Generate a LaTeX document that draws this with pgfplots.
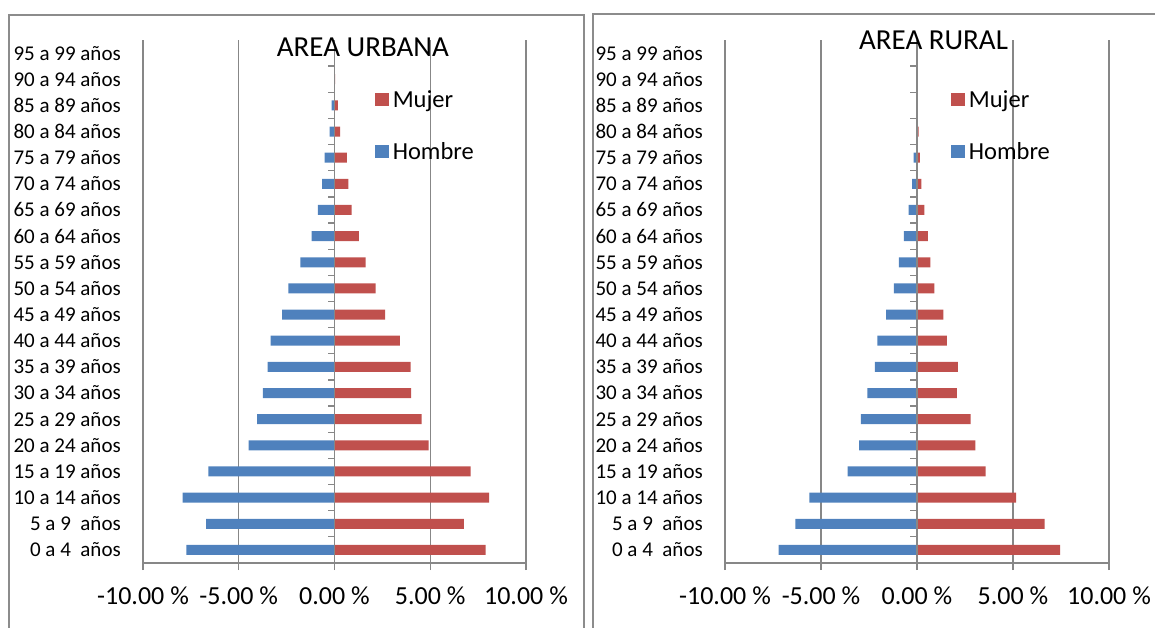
\documentclass[border=0pt]{standalone}
\usepackage{pgfplots}
\pgfplotsset{compat=1.18}
\usepackage{pgfplotstable}
\usepackage{fontspec}
\setmainfont{Carlito}

\definecolor{hombre}{HTML}{4F81BD}
\definecolor{mujer}{HTML}{C0504D}
\definecolor{gridgray}{HTML}{878787}
\definecolor{framegray}{HTML}{8C8C8C}

% idx 0 = 0 a 4 anos ... idx 19 = 95 a 99 anos
\pgfplotstableread{
idx hombre mujer
0  -7.73 7.89
1  -6.71 6.75
2  -7.93 8.07
3  -6.59 7.11
4  -4.49 4.92
5  -4.04 4.55
6  -3.74 4.00
7  -3.49 3.98
8  -3.33 3.41
9  -2.74 2.64
10 -2.41 2.15
11 -1.78 1.62
12 -1.19 1.27
13 -0.87 0.89
14 -0.64 0.72
15 -0.52 0.64
16 -0.25 0.29
17 -0.15 0.17
18 -0.02 0.03
19  0.00 0.00
}\urbana

\pgfplotstableread{
idx hombre mujer
0  -7.21 7.46
1  -6.34 6.64
2  -5.60 5.16
3  -3.62 3.57
4  -3.02 3.04
5  -2.92 2.79
6  -2.58 2.07
7  -2.20 2.13
8  -2.07 1.56
9  -1.61 1.37
10 -1.20 0.91
11 -0.95 0.70
12 -0.68 0.57
13 -0.44 0.38
14 -0.25 0.23
15 -0.17 0.15
16 -0.03 0.08
17 -0.01 0.04
18  0.00 0.00
19  0.00 0.00
}\rural

\pgfplotsset{
  pyramid/.style={
    scale only axis,
    width=383pt, height=523pt,
    anchor=south west,
    xbar, bar width=10pt, bar shift=0pt,
    xmin=-10, xmax=10,
    ymin=-0.5, ymax=19.5,
    axis x line=bottom,
    axis y line=left,
    x axis line style={-, draw=gridgray, line width=1.3pt},
    y axis line style={draw=none},
    xtick={-10,-5,0,5,10},
    xticklabels={-10.00 \%,-5.00 \%,0.00 \%,5.00 \%,10.00 \%},
    xmajorgrids,
    grid style={draw=gridgray, line width=1.3pt},
    xtick style={draw=gridgray, line width=1.3pt},
    tick align=outside,
    major tick length=7pt,
    xticklabel style={font=\fontsize{26}{30}\selectfont, inner sep=0pt, anchor=north, yshift=-17pt},
    ytick={0,...,19},
    yticklabels={0 a 4\ \ años,5 a 9\ \ años,10 a 14 años,15 a 19 años,20 a 24 años,25 a 29 años,30 a 34 años,35 a 39 años,40 a 44 años,45 a 49 años,50 a 54 años,55 a 59 años,60 a 64 años,65 a 69 años,70 a 74 años,75 a 79 años,80 a 84 años,85 a 89 años,90 a 94 años,95 a 99 años},
    ytick style={draw=none},
    yticklabel style={font=\fontsize{21}{24}\selectfont, inner sep=0pt, anchor=east, xshift=-15pt},
    title style={font=\fontsize{29}{33}\selectfont, inner sep=0pt, anchor=center},
    legend cell align=left,
    legend image code/.code={\fill[##1,draw=none] (0pt,1.5pt) rectangle (13.5pt,14.5pt);},
    legend style={draw=none, fill=none, inner sep=0pt, row sep=33pt,
      font=\fontsize{24.5}{28}\selectfont,
      nodes={inner sep=0pt, anchor=base west},
      /tikz/every odd column/.append style={column sep=4pt}},
  },
}

\begin{document}
\begin{tikzpicture}[x=1pt,y=1pt]
\useasboundingbox (0,0) rectangle (1155,628);
% panel frames
\draw[framegray, line width=1.5pt] (9,-5) -- (9,613) -- (584,613) -- (584,-5);
\draw[framegray, line width=1.5pt] (593,-5) -- (593,614) -- (1165,614);

\begin{axis}[pyramid, at={(143pt,65pt)},
  title={AREA URBANA},
  title style={at={(axis description cs:0.574,0.975)}},
  legend style={at={(axis description cs:0.606,0.903)}, anchor=north west}]
  \addplot[fill=mujer, draw=none] table[x=mujer, y=idx] {\urbana};
  \addplot[fill=hombre, draw=none] table[x=hombre, y=idx] {\urbana};
  \legend{Mujer, Hombre}
  \draw[gridgray, line width=1.3pt] (axis cs:0,-0.5) -- (axis cs:0,19.5);
  \pgfplotsinvokeforeach{0.5,1.5,...,18.5}{
    \draw[gridgray, line width=1.3pt] (axis cs:0,#1) -- ++(-7pt,0pt);}
\end{axis}

\begin{axis}[pyramid, at={(725pt,65pt)}, width=384pt,
  title={AREA RURAL},
  title style={at={(axis description cs:0.543,0.988)}},
  legend style={at={(axis description cs:0.589,0.903)}, anchor=north west}]
  \addplot[fill=mujer, draw=none] table[x=mujer, y=idx] {\rural};
  \addplot[fill=hombre, draw=none] table[x=hombre, y=idx] {\rural};
  \legend{Mujer, Hombre}
  \draw[gridgray, line width=1.3pt] (axis cs:0,-0.5) -- (axis cs:0,19.5);
  \pgfplotsinvokeforeach{0.5,1.5,...,18.5}{
    \draw[gridgray, line width=1.3pt] (axis cs:0,#1) -- ++(-7pt,0pt);}
\end{axis}
\end{tikzpicture}
\end{document}
